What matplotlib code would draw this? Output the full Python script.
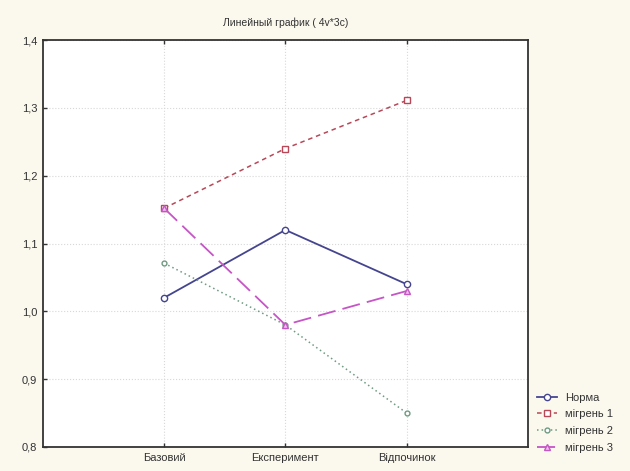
import matplotlib
matplotlib.use('Agg')
import matplotlib.pyplot as plt
from matplotlib.ticker import FuncFormatter

plt.rcParams['font.family'] = ['Liberation Sans', 'DejaVu Sans']

categories = ['Базовий', 'Експеримент', 'Відпочинок']
norma = [1.02, 1.12, 1.04]
migraine1 = [1.152, 1.24, 1.311]
migraine2 = [1.071, 0.98, 0.85]
migraine3 = [1.152, 0.98, 1.03]
y_ticks = [0.8, 0.9, 1.0, 1.1, 1.2, 1.3, 1.4]

bg = '#fbf8ee'
fig = plt.figure(figsize=(6.3, 4.71), dpi=100, facecolor=bg)
ax = fig.add_axes([0.068, 0.051, 0.770, 0.864])

x = list(range(len(categories)))

ax.plot(x, norma, color='#45458f', lw=1.3, marker='o', ms=4.5,
        mfc='white', mec='#45458f', mew=1.0, label='Норма', zorder=4)
ax.plot(x, migraine1, color='#b84858', lw=1.1, ls=(0, (3, 2.5)), marker='s', ms=4.5,
        mfc='white', mec='#b84858', mew=1.0, label='мігрень 1', zorder=4)
ax.plot(x, migraine2, color='#6f9a82', lw=1.1, ls=(0, (1, 2)), marker='o', ms=3.5,
        mfc='white', mec='#6f9a82', mew=1.0, label='мігрень 2', zorder=4)
ax.plot(x, migraine3, color='#c655c6', lw=1.3, ls=(0, (10, 4)), marker='^', ms=4.5,
        mfc='#f0c0f0', mec='#c655c6', mew=1.0, label='мігрень 3', zorder=4)

ax.set_xlim(-1, 3)
ax.set_ylim(0.8, 1.4)
ax.set_xticks(x)
ax.set_xticklabels(categories)
ax.set_yticks(y_ticks)
ax.yaxis.set_major_formatter(FuncFormatter(lambda v, p: f'{v:.1f}'.replace('.', ',')))

ax.grid(True, color='#d8d8d8', ls=':', lw=0.8)
ax.set_axisbelow(True)
ax.tick_params(direction='in', length=3, width=1, labelsize=8, colors='#333333',
               top=True, pad=4)
for s in ax.spines.values():
    s.set_linewidth(1.3)
    s.set_color('#333333')

ax.set_title('Линейный график ( 4v*3c)', fontsize=7.5, color='#333333', pad=10)

leg = ax.legend(loc='lower left', bbox_to_anchor=(1.005, -0.03), frameon=False,
                fontsize=8, handlelength=1.8, handletextpad=0.7,
                labelspacing=0.6, borderaxespad=0.2)
for t in leg.get_texts():
    t.set_color('#333333')

fig.savefig('out.png', dpi=100, facecolor=bg)
